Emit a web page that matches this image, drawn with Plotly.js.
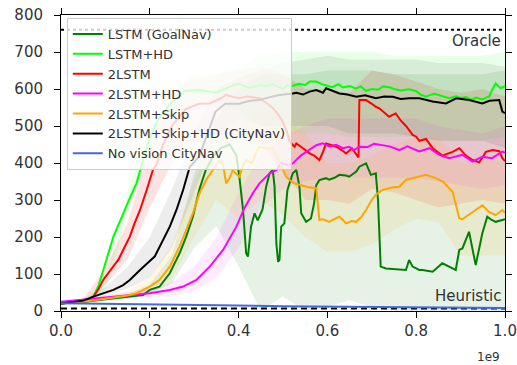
<!DOCTYPE html>
<html>
<head>
<meta charset="utf-8">
<script src="https://cdn.plot.ly/plotly-3.0.1.min.js"></script>
<style>html,body{margin:0;padding:0;background:#fff;}#chart{width:517px;height:365px;}</style>
</head>
<body>
<div id="chart"></div>
<script>
// ---- series (x in units of 1e9 steps) ----
const goalNavX = [0,0.05,0.1,0.15,0.185,0.2,0.222,0.245,0.267,0.282,0.297,0.312,0.326,0.342,0.36,0.38,0.395,0.402,0.41,0.417,0.421,0.428,0.436,0.443,0.454,0.462,0.47,0.477,0.481,0.485,0.489,0.492,0.496,0.503,0.51,0.522,0.53,0.537,0.541,0.552,0.563,0.57,0.575,0.582,0.597,0.604,0.616,0.627,0.642,0.649,0.665,0.672,0.687,0.698,0.709,0.714,0.717,0.72,0.732,0.754,0.777,0.784,0.792,0.807,0.814,0.837,0.859,0.874,0.889,0.897,0.904,0.919,0.927,0.934,0.949,0.96,0.97,0.979,0.994,1.0];
const goalNavY = [20,24,32,38,43,57,66,102,156,201,255,330,381,417,440,450,420,360,273,156,147,228,264,245,275,336,372,381,336,183,133,138,228,237,327,372,381,336,264,241,250,291,340,354,359,355,360,368,366,363,377,390,399,368,372,300,228,120,115,113,111,138,120,111,111,106,129,120,111,165,169,214,169,124,210,255,246,241,246,248];

const lstmHdX = [0,0.03,0.05,0.06,0.073,0.085,0.095,0.105,0.118,0.13,0.14,0.155,0.17,0.185,0.2,0.22,0.25,0.28,0.31,0.35,0.38,0.40,0.425,0.45,0.46,0.475,0.49,0.50,0.51,0.522,0.535,0.55,0.56,0.575,0.59,0.60,0.611,0.625,0.635,0.65,0.665,0.675,0.687,0.70,0.715,0.725,0.739,0.75,0.765,0.784,0.80,0.81,0.822,0.84,0.855,0.874,0.89,0.9,0.912,0.925,0.935,0.949,0.96,0.964,0.972,0.979,0.99,1.0];
const lstmHdY = [20,24,28,31,39,70,111,150,201,235,264,305,345,408,470,520,565,595,598,590,606,614,603,611,608,613,606,600,610,608,614,611,620,620,612,608,605,613,604,608,601,607,595,600,598,607,605,600,596,599,594,585,579,588,582,575,580,576,578,571,577,572,578,579,600,615,602,608];

const twoLstmX = [0,0.03,0.05,0.06,0.073,0.085,0.095,0.105,0.118,0.13,0.14,0.155,0.165,0.178,0.193,0.207,0.215,0.23,0.25,0.28,0.31,0.335,0.36,0.372,0.39,0.402,0.42,0.447,0.46,0.477,0.49,0.499,0.51,0.515,0.526,0.53,0.545,0.56,0.57,0.582,0.59,0.597,0.61,0.62,0.632,0.642,0.655,0.665,0.670,0.672,0.679,0.687,0.70,0.709,0.717,0.73,0.739,0.747,0.754,0.765,0.777,0.792,0.80,0.807,0.822,0.837,0.859,0.882,0.897,0.912,0.927,0.942,0.957,0.972,0.987,0.994,1.0];
const twoLstmY = [20,23,27,30,39,60,84,100,120,140,165,201,235,273,327,381,395,450,500,545,560,561,575,584,578,575,580,575,565,549,530,512,480,458,444,453,440,426,420,408,430,453,448,444,435,426,440,422,415,570,570,570,560,552,548,535,525,530,534,515,500,476,471,460,465,440,420,430,440,420,408,402,430,435,432,413,405];

const twoLstmHdX = [0,0.05,0.11,0.15,0.2,0.245,0.275,0.305,0.335,0.365,0.395,0.413,0.432,0.447,0.47,0.485,0.496,0.51,0.522,0.54,0.56,0.575,0.589,0.605,0.62,0.635,0.649,0.66,0.672,0.69,0.705,0.724,0.74,0.762,0.78,0.807,0.83,0.852,0.874,0.904,0.927,0.949,0.971,0.994,1.0];
const twoLstmHdY = [25,31,39,43,48,57,66,84,120,165,228,278,318,345,372,381,400,395,399,420,435,448,453,445,449,440,444,435,444,443,452,449,445,435,445,431,440,422,413,422,404,417,413,431,428];

const skipX = [0,0.05,0.1,0.15,0.17,0.2,0.222,0.245,0.267,0.282,0.297,0.312,0.327,0.342,0.357,0.365,0.372,0.38,0.387,0.395,0.402,0.41,0.417,0.43,0.44,0.447,0.46,0.477,0.485,0.492,0.50,0.507,0.515,0.525,0.537,0.555,0.575,0.578,0.582,0.59,0.604,0.615,0.627,0.642,0.655,0.665,0.677,0.687,0.70,0.709,0.724,0.745,0.762,0.777,0.795,0.822,0.844,0.86,0.882,0.897,0.904,0.927,0.949,0.964,0.979,0.994,1.0];
const skipY = [20,25,33,42,48,66,84,120,174,219,264,318,354,381,408,395,345,360,381,370,363,395,408,400,430,444,440,440,420,404,385,363,354,345,341,335,332,300,246,248,241,248,255,237,243,241,255,273,300,314,327,334,336,354,360,368,359,350,322,251,248,268,286,268,259,273,265];

const cityNavX = [0,0.03,0.05,0.073,0.095,0.118,0.14,0.155,0.178,0.193,0.2,0.211,0.23,0.245,0.26,0.275,0.29,0.297,0.312,0.33,0.348,0.37,0.402,0.425,0.447,0.47,0.492,0.522,0.53,0.545,0.56,0.575,0.59,0.597,0.61,0.627,0.645,0.665,0.685,0.709,0.728,0.747,0.765,0.784,0.807,0.837,0.867,0.89,0.919,0.949,0.965,0.987,0.994,1.0];
const cityNavY = [20,24,28,39,48,57,70,84,111,129,135,147,192,228,273,327,390,398,420,480,539,560,560,568,570,578,584,588,590,585,593,597,590,602,595,588,585,579,583,575,580,579,573,575,575,566,561,575,570,561,568,570,539,535];

const noVisionX = [0,0.1,0.2,0.3,0.4,0.5,0.6,0.7,0.8,0.9,1.0];
const noVisionY = [21,20,18,17,15,13,12,11,9,8,8];

const oracleVal = 760;
const heuristicVal = 7;

// ---- shaded spread bands ----
const bandX = [0,0.05,0.1,0.15,0.2,0.25,0.3,0.35,0.4,0.45,0.5,0.55,0.6,0.65,0.7,0.75,0.8,0.85,0.9,0.95,1.0];
const goalNavLo = [18,22,28,33,45,75,170,230,120,0,40,0,10,30,10,0,0,0,0,0,0];
const goalNavHi = [22,27,37,45,72,150,370,520,600,640,640,640,650,650,650,640,640,640,640,640,650];
const lstmHdLo = [18,24,55,260,440,530,560,560,540,500,480,480,480,470,470,470,470,460,460,460,470];
const lstmHdHi = [22,32,85,320,500,600,640,640,660,690,700,700,700,700,700,690,690,690,690,690,700];
const twoLstmLo = [18,22,70,140,280,400,470,480,480,450,380,300,300,290,330,320,300,280,290,300,290];
const twoLstmHi = [22,34,115,240,440,590,630,640,650,660,640,600,600,590,650,640,620,600,590,600,580];
const twoLstmHdLo = [22,27,32,36,38,40,55,90,170,280,330,350,360,360,360,360,360,350,340,330,340];
const twoLstmHdHi = [28,33,42,50,60,80,120,200,320,420,470,500,520,520,520,520,520,500,490,480,500];
const skipLo = [18,22,28,35,50,90,200,300,250,300,260,200,160,160,180,220,250,240,150,150,150];
const skipHi = [22,28,40,55,90,180,350,490,480,560,520,480,400,400,420,450,470,470,400,420,400];
const cityNavLo = [18,24,40,60,90,170,320,470,520,500,500,500,500,480,480,480,470,460,460,460,440];
const cityNavHi = [22,32,65,120,200,330,480,600,630,650,670,680,690,680,680,680,680,670,670,670,660];

const names = ['LSTM (GoalNav)','LSTM+HD','2LSTM','2LSTM+HD','2LSTM+Skip','2LSTM+Skip+HD (CityNav)','No vision CityNav'];
const colors = ['#008000','#00ff00','#ff0000','#ff00ff','#ffa500','#000000','#4169e1'];
const fills = ['rgba(0,128,0,0.10)','rgba(0,255,0,0.09)','rgba(255,0,0,0.11)','rgba(255,0,255,0.08)','rgba(255,165,0,0.10)','rgba(0,0,0,0.07)'];

const lines = [[goalNavX,goalNavY],[lstmHdX,lstmHdY],[twoLstmX,twoLstmY],[twoLstmHdX,twoLstmHdY],[skipX,skipY],[cityNavX,cityNavY],[noVisionX,noVisionY]];
const bands = [[goalNavLo,goalNavHi],[lstmHdLo,lstmHdHi],[twoLstmLo,twoLstmHi],[twoLstmHdLo,twoLstmHdHi],[skipLo,skipHi],[cityNavLo,cityNavHi]];

const traces = [];
bands.forEach((b,i)=>{
  traces.push({
    x: bandX.concat(bandX.slice().reverse()),
    y: b[1].concat(b[0].slice().reverse()),
    type:'scatter', mode:'lines', fill:'toself', fillcolor:fills[i],
    line:{width:0}, showlegend:false, hoverinfo:'skip'
  });
});
traces.push({x:[0,1],y:[oracleVal,oracleVal],type:'scatter',mode:'lines',line:{color:'#000',width:2,dash:'dot'},showlegend:false});
traces.push({x:[0,1],y:[heuristicVal,heuristicVal],type:'scatter',mode:'lines',line:{color:'#000',width:2,dash:'6px,4px'},showlegend:false});
lines.forEach((l,i)=>{
  traces.push({x:l[0],y:l[1],type:'scatter',mode:'lines',name:names[i],line:{color:colors[i],width:2}});
});

const tickFont = {family:'DejaVu Sans', size:15, color:'#333'};
const layout = {
  width:517, height:365,
  margin:{l:61, r:12, t:15, b:54},
  paper_bgcolor:'#fff', plot_bgcolor:'#fff',
  showlegend:true,
  legend:{x:0.013, y:0.99, xanchor:'left', yanchor:'top', bgcolor:'rgba(255,255,255,0.8)', bordercolor:'#ccc', borderwidth:1,
          font:{family:'DejaVu Sans', size:13, color:'#333'}, tracegroupgap:0},
  xaxis:{range:[0,1], tickvals:[0,0.2,0.4,0.6,0.8,1.0], ticktext:['0.0','0.2','0.4','0.6','0.8','1.0'],
         showgrid:false, zeroline:false, showline:true, linecolor:'#000', linewidth:1, mirror:'allticks',
         ticks:'outside', ticklen:6, tickcolor:'#000', tickfont:tickFont, ticklabeloverflow:'allow'},
  yaxis:{range:[0,800], tickvals:[0,100,200,300,400,500,600,700,800],
         showgrid:false, zeroline:false, showline:true, linecolor:'#000', linewidth:1, mirror:'allticks',
         ticks:'outside', ticklen:6, tickcolor:'#000', tickfont:tickFont, ticklabelstandoff:8, ticklabeloverflow:'allow'},
  annotations:[
    {xref:'paper', yref:'y', x:0.995, y:730, text:'Oracle', showarrow:false, xanchor:'right', yanchor:'middle', font:{family:'DejaVu Sans', size:15, color:'#333'}},
    {xref:'paper', yref:'y', x:0.995, y:40, text:'Heuristic', showarrow:false, xanchor:'right', yanchor:'middle', font:{family:'DejaVu Sans', size:15, color:'#333'}},
    {xref:'paper', yref:'paper', x:0.993, y:-0.155, text:'1e9', showarrow:false, xanchor:'right', yanchor:'middle', font:{family:'DejaVu Sans', size:12, color:'#333'}}
  ]
};
Plotly.newPlot('chart', traces, layout, {displayModeBar:false, staticPlot:true});
</script>
</body>
</html>
